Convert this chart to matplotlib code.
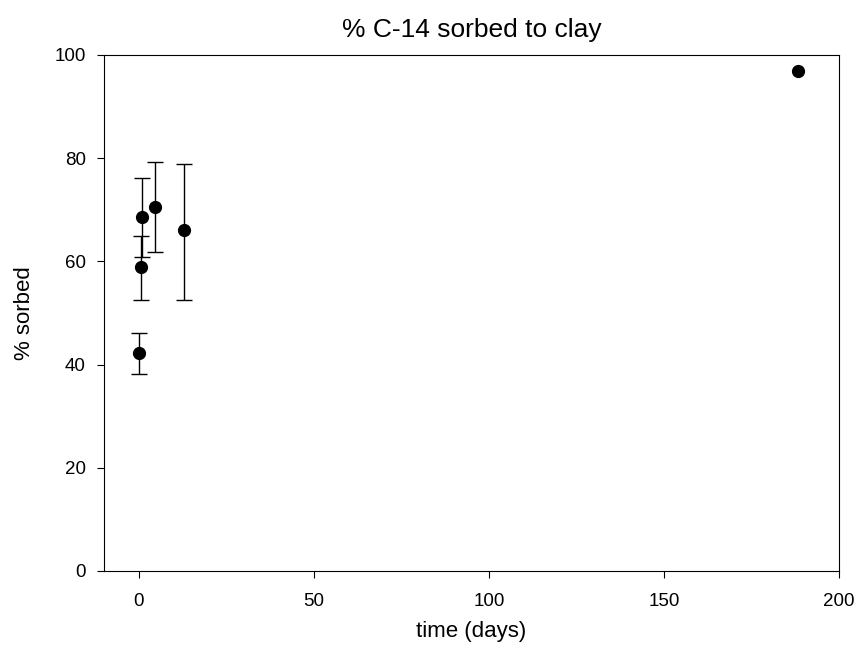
import matplotlib
matplotlib.use('Agg')
import matplotlib.pyplot as plt

plt.rcParams['font.family'] = ['Liberation Sans', 'DejaVu Sans']

# data
days = [0, 0.6, 0.8, 4.5, 12.8, 188.3]
sorbed = [42.3, 59.0, 68.6, 70.6, 66.0, 96.8]
err_lo = [4.2, 6.5, 7.8, 8.8, 13.5, 0.0]
err_hi = [3.9, 6.0, 7.5, 8.6, 12.9, 0.0]

fig = plt.figure(figsize=(8.58, 6.56), dpi=100)
ax = fig.add_axes([0.1212, 0.1296, 0.8566, 0.7866])

# no caps drawn where the bar has zero length
for x, y, lo, hi in zip(days, sorbed, err_lo, err_hi):
    cs = 5.5 if (lo + hi) > 0 else 0
    ax.errorbar([x], [y], yerr=[[lo], [hi]], fmt='o', color='black',
                markersize=8.5, capsize=cs, elinewidth=1, capthick=1)

ax.set_xlim(-10, 200)
ax.set_ylim(0, 100)
ax.set_xticks([0, 50, 100, 150, 200])
ax.set_yticks([0, 20, 40, 60, 80, 100])
ax.tick_params(direction='out', length=5, labelsize=13.5, top=False, right=False)
ax.tick_params(axis='x', pad=11)
ax.tick_params(axis='y', pad=8)
ax.set_title('% C-14 sorbed to clay', fontsize=19, pad=13)
ax.set_xlabel('time (days)', fontsize=16, labelpad=8)
ax.set_ylabel('% sorbed', fontsize=16, labelpad=14)

fig.savefig('out.png', dpi=100)
